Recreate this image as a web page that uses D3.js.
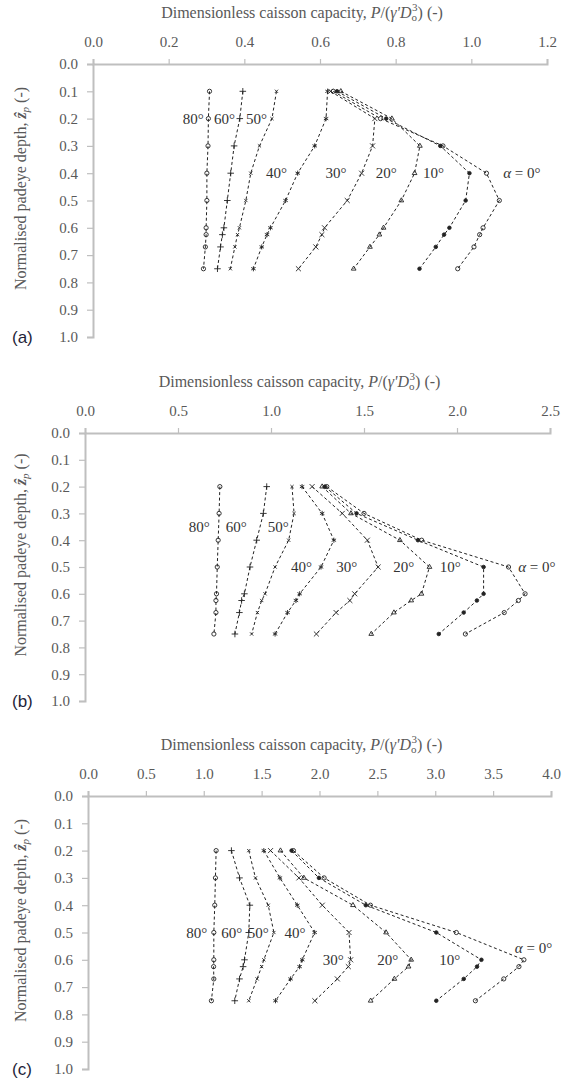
<!DOCTYPE html>
<html lang="en">
<head>
<meta charset="UTF-8">
<title>Caisson capacity vs padeye depth</title>
<script src="https://d3js.org/d3.v7.min.js"></script>
<style>
  body { margin: 0; background: #fff; }
  svg { display: block; }
  .tick-label { font-family: "Liberation Serif", serif; font-size: 15px; fill: #595959; }
  .axis-title { font-family: "Liberation Serif", serif; font-size: 16px; fill: #595959; }
  .angle-label { font-family: "Liberation Serif", serif; font-size: 15px; fill: #333; }
  .panel-letter { font-family: "Liberation Sans", Arial, sans-serif; font-size: 17px; fill: #1f1f3a; }
</style>
</head>
<body>
<svg id="chart" width="564" height="1086"></svg>
<script>
// load inclination angles (deg), same order in every panel
const angles = [0, 10, 20, 30, 40, 50, 60, 80];

// panel (a)
const depthA = [0.1, 0.2, 0.3, 0.4, 0.5, 0.6, 0.625, 0.67, 0.75];
const capA = [
  [0.635, 0.76, 0.925, 1.04, 1.074, 1.031, 1.022, 1.007, 0.964],
  [0.645, 0.775, 0.918, 0.995, 0.985, 0.942, 0.928, 0.906, 0.863],
  [0.655, 0.79, 0.864, 0.85, 0.815, 0.768, 0.757, 0.732, 0.689],
  [0.628, 0.745, 0.739, 0.71, 0.672, 0.612, 0.605, 0.589, 0.543],
  [0.62, 0.616, 0.586, 0.541, 0.509, 0.469, 0.46, 0.446, 0.424],
  [0.485, 0.473, 0.44, 0.417, 0.404, 0.387, 0.382, 0.375, 0.363],
  [0.396, 0.388, 0.373, 0.364, 0.355, 0.346, 0.342, 0.337, 0.329],
  [0.308, 0.305, 0.304, 0.301, 0.301, 0.299, 0.299, 0.297, 0.292]
];
const ticksA = [0, 0.2, 0.4, 0.6, 0.8, 1.0, 1.2];
// label text, x (capacity, right end of text), depth
const labelsA = [
  ["α = 0°", 1.183, 0.4], ["10°", 0.928, 0.4], ["20°", 0.803, 0.4], ["30°", 0.67, 0.4],
  ["40°", 0.513, 0.4], ["50°", 0.46, 0.2], ["60°", 0.375, 0.2], ["80°", 0.293, 0.2]
];

// panel (b)
const depthB = [0.2, 0.3, 0.4, 0.5, 0.6, 0.625, 0.67, 0.75];
const capB = [
  [1.30, 1.50, 1.81, 2.277, 2.366, 2.33, 2.254, 2.045],
  [1.29, 1.46, 1.79, 2.143, 2.143, 2.107, 2.036, 1.902],
  [1.275, 1.43, 1.693, 1.852, 1.809, 1.754, 1.661, 1.539],
  [1.221, 1.383, 1.518, 1.576, 1.45, 1.424, 1.35, 1.244],
  [1.167, 1.275, 1.338, 1.269, 1.154, 1.134, 1.089, 1.022],
  [1.113, 1.124, 1.095, 1.022, 0.968, 0.95, 0.927, 0.896],
  [0.977, 0.959, 0.923, 0.887, 0.857, 0.842, 0.83, 0.806],
  [0.725, 0.721, 0.716, 0.711, 0.707, 0.704, 0.704, 0.693]
];
const ticksB = [0, 0.5, 1.0, 1.5, 2.0, 2.5];
const labelsB = [
  ["α = 0°", 2.53, 0.5], ["10°", 2.02, 0.5], ["20°", 1.77, 0.5], ["30°", 1.464, 0.5],
  ["40°", 1.22, 0.5], ["50°", 1.095, 0.35], ["60°", 0.869, 0.35], ["80°", 0.671, 0.35]
];

// panel (c)
const depthC = [0.2, 0.3, 0.4, 0.5, 0.6, 0.625, 0.67, 0.75];
const capC = [
  [1.775, 2.04, 2.44, 3.182, 3.766, 3.723, 3.592, 3.347],
  [1.759, 1.995, 2.40, 3.009, 3.399, 3.361, 3.246, 3.009],
  [1.663, 1.865, 2.289, 2.575, 2.792, 2.769, 2.647, 2.442],
  [1.577, 1.822, 2.024, 2.255, 2.269, 2.249, 2.154, 1.96],
  [1.519, 1.658, 1.808, 1.958, 1.851, 1.828, 1.75, 1.62],
  [1.389, 1.447, 1.557, 1.606, 1.519, 1.50, 1.461, 1.389],
  [1.239, 1.309, 1.398, 1.389, 1.352, 1.34, 1.309, 1.268],
  [1.107, 1.101, 1.095, 1.087, 1.087, 1.085, 1.087, 1.066]
];
const ticksC = [0, 0.5, 1.0, 1.5, 2.0, 2.5, 3.0, 3.5, 4.0];
const labelsC = [
  ["α = 0°", 4.01, 0.555], ["10°", 3.217, 0.6], ["20°", 2.68, 0.6], ["30°", 2.21, 0.6],
  ["40°", 1.88, 0.5], ["50°", 1.562, 0.5], ["60°", 1.332, 0.5], ["80°", 1.03, 0.5]
];

const depthTicks = d3.range(0, 11).map(i => i / 10);

// markers per angle
const symTimes = d3.symbolTimes || d3.symbolX || d3.symbolCross;
const markers = {
  0: { type: d3.symbolCircle, size: 14, fill: "none" },
  10: { type: d3.symbolCircle, size: 10, fill: "#222" },
  20: { type: d3.symbolTriangle2 || d3.symbolTriangle, size: 16, fill: "none" },
  30: { type: symTimes, size: 18, fill: "none" },
  40: { type: d3.symbolAsterisk || d3.symbolCross, size: 18, fill: "none" },
  50: { type: symTimes, size: 8, fill: "none" },
  60: { type: d3.symbolPlus || d3.symbolCross, size: 16, fill: "none" },
  80: { type: d3.symbolCircle, size: 14, fill: "none" }
};

const svg = d3.select("#chart");

const panels = [
  { letter: "(a)", depth: depthA, cap: capA, ticks: ticksA, labels: labelsA,
    left: 93, right: 547, top: 64, bottom: 337 },
  { letter: "(b)", depth: depthB, cap: capB, ticks: ticksB, labels: labelsB,
    left: 85, right: 550, top: 433, bottom: 701 },
  { letter: "(c)", depth: depthC, cap: capC, ticks: ticksC, labels: labelsC,
    left: 88, right: 551, top: 796, bottom: 1069 }
];

panels.forEach(p => {
  const xMax = p.ticks[p.ticks.length - 1];
  const x = d3.scaleLinear().domain([0, xMax]).range([p.left, p.right]);
  const y = d3.scaleLinear().domain([0, 1]).range([p.top, p.bottom]);
  const g = svg.append("g");

  // top axis
  const xAxis = d3.axisTop(x).tickValues(p.ticks).tickFormat(d3.format(".1f"))
    .tickSize(5).tickSizeOuter(5).tickPadding(12);
  const gx = g.append("g").attr("transform", `translate(0,${p.top})`).call(xAxis);
  gx.select(".domain").attr("stroke", "#bfbfbf").attr("stroke-width", 2);
  gx.selectAll(".tick line").attr("stroke", "#bfbfbf").attr("stroke-width", 1.2);
  gx.selectAll(".tick text").attr("class", "tick-label").attr("font-size", null).attr("font-family", null).attr("fill", null);

  // left axis
  const yAxis = d3.axisLeft(y).tickValues(depthTicks).tickFormat(d3.format(".1f"))
    .tickSize(6).tickSizeOuter(6).tickPadding(9);
  const gy = g.append("g").attr("transform", `translate(${p.left},0)`).call(yAxis);
  gy.select(".domain").attr("stroke", "#bfbfbf").attr("stroke-width", 2);
  gy.selectAll(".tick line").attr("stroke", "#bfbfbf").attr("stroke-width", 1.2);
  gy.selectAll(".tick text").attr("class", "tick-label").attr("font-size", null).attr("font-family", null).attr("fill", null);

  // x title
  const xt = g.append("text").attr("class", "axis-title")
    .attr("x", (p.left + p.right) / 2 - 18).attr("y", p.top - 46).attr("text-anchor", "middle");
  xt.append("tspan").text("Dimensionless caisson capacity, ");
  xt.append("tspan").attr("font-style", "italic").text("P");
  xt.append("tspan").text("/(");
  xt.append("tspan").attr("font-style", "italic").text("γ'D");
  xt.append("tspan").attr("font-size", "11px").attr("dy", 3).text("o");
  xt.append("tspan").attr("font-size", "11px").attr("dx", -5).attr("dy", -10).text("3");
  xt.append("tspan").attr("dy", 7).text(") (-)");

  // y title
  const yt = g.append("text").attr("class", "axis-title")
    .attr("transform", `translate(26,${(p.top + p.bottom) / 2 - 12}) rotate(-90)`)
    .attr("text-anchor", "middle");
  yt.append("tspan").text("Normalised padeye depth, ");
  yt.append("tspan").attr("font-style", "italic").attr("font-weight", "bold").text("ẑ");
  yt.append("tspan").attr("font-style", "italic").attr("font-size", "11px").attr("dy", 3).text("p");
  yt.append("tspan").attr("dy", -3).text(" (-)");

  // panel letter
  g.append("text").attr("class", "panel-letter")
    .attr("x", 12).attr("y", p.bottom + 6).text(p.letter);

  // series
  const line = d3.line().x(d => x(d[0])).y(d => y(d[1]));
  angles.forEach((a, i) => {
    const pts = p.cap[i].map((v, j) => [v, p.depth[j]]);
    g.append("path").attr("d", line(pts))
      .attr("fill", "none").attr("stroke", "#222").attr("stroke-width", 1)
      .attr("stroke-dasharray", "3,2.5");
    const m = markers[a];
    g.selectAll(null).data(pts).enter().append("path")
      .attr("transform", d => `translate(${x(d[0])},${y(d[1])})`)
      .attr("d", d3.symbol().type(m.type).size(m.size))
      .attr("fill", m.fill).attr("stroke", "#222").attr("stroke-width", 0.9);
  });

  // angle labels
  g.selectAll(null).data(p.labels).enter().append("text")
    .attr("class", "angle-label")
    .attr("x", d => x(d[1])).attr("y", d => y(d[2]) + 5)
    .attr("text-anchor", "end")
    .each(function(d) {
      const t = d3.select(this);
      if (d[0].startsWith("α")) {
        t.append("tspan").attr("font-style", "italic").text("α");
        t.append("tspan").text(" = 0°");
      } else {
        t.text(d[0]);
      }
    });
});
</script>
</body>
</html>
